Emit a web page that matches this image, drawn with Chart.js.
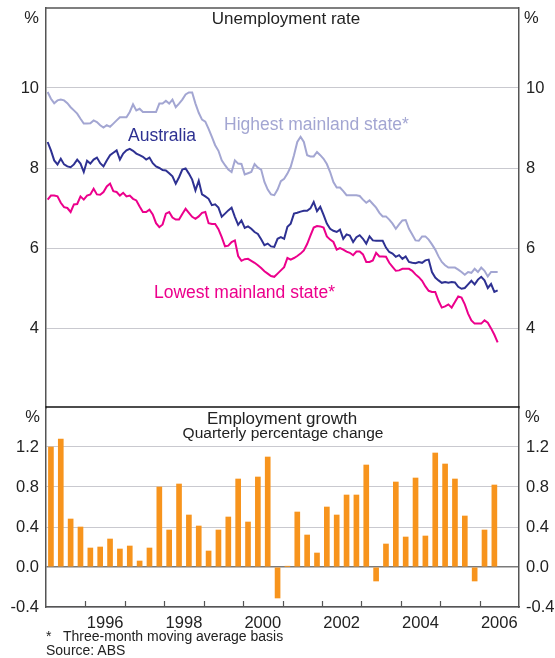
<!DOCTYPE html>
<html>
<head>
<meta charset="utf-8">
<script src="https://cdn.jsdelivr.net/npm/chart.js@4"></script>
<style>
  body { margin: 0; background: #fff; width: 555px; height: 658px; overflow: hidden; position: relative; }
  canvas { position: absolute; left: 0; }
  .note { position: absolute; left: 46px; font: 14px Arial, "Liberation Sans", sans-serif; color: #222; line-height: 16px; white-space: nowrap; }
</style>
</head>
<body>
<canvas id="unempChart" width="555" height="420" style="top:0"></canvas>
<canvas id="growthChart" width="555" height="258" style="top:400px"></canvas>
<div class="note" style="top:628px">*<span style="position:absolute;left:17px">Three-month moving average basis</span></div>
<div class="note" style="top:642px">Source: ABS</div>
<script>
// monthly series, Jan 1995 .. Jun 2006
const startYear = 1995;
const australia = [8.65, 8.44, 8.19, 8.09, 8.23, 8.09, 8.04, 8.02, 8.09, 8.21,
  8.11, 7.90, 8.18, 8.11, 8.21, 8.26, 8.12, 8.04, 8.19, 8.32,
  8.38, 8.44, 8.21, 8.36, 8.44, 8.48, 8.43, 8.36, 8.32, 8.28,
  8.21, 8.26, 8.12, 8.04, 8.00, 7.95, 7.94, 7.87, 7.79, 7.61,
  7.77, 7.96, 7.99, 7.86, 7.71, 7.44, 7.68, 7.34, 7.29, 7.23,
  7.07, 7.09, 7.01, 6.78, 6.86, 6.94, 7.01, 6.78, 6.58, 6.69,
  6.50, 6.54, 6.48, 6.40, 6.35, 6.22, 6.07, 6.11, 6.04, 6.03,
  6.23, 6.27, 6.23, 6.53, 6.61, 6.86, 6.88, 6.91, 6.93, 6.93,
  6.99, 7.15, 6.92, 7.03, 6.83, 6.61, 6.48, 6.43, 6.40, 6.46,
  6.23, 6.34, 6.31, 6.15, 6.27, 6.32, 6.23, 6.11, 6.29, 6.19,
  6.18, 6.18, 6.18, 6.01, 5.90, 5.86, 5.78, 5.82, 5.73, 5.79,
  5.65, 5.63, 5.62, 5.65, 5.63, 5.69, 5.71, 5.40, 5.26, 5.19,
  5.13, 5.15, 5.13, 5.15, 5.14, 5.03, 4.98, 5.00, 5.09, 5.18,
  5.09, 5.21, 5.28, 5.19, 5.00, 5.10, 4.90, 4.94];
const highestState = [9.90, 9.73, 9.62, 9.69, 9.71, 9.69, 9.62, 9.52, 9.44, 9.36,
  9.23, 9.11, 9.11, 9.12, 9.19, 9.15, 9.07, 9.01, 9.07, 9.03,
  9.11, 9.19, 9.27, 9.27, 9.27, 9.40, 9.59, 9.44, 9.48, 9.40,
  9.40, 9.40, 9.40, 9.40, 9.61, 9.61, 9.68, 9.61, 9.71, 9.52,
  9.61, 9.71, 9.84, 9.89, 9.89, 9.61, 9.38, 9.21, 9.16, 8.98,
  8.78, 8.57, 8.43, 8.19, 8.07, 7.96, 7.90, 8.19, 8.11, 8.10,
  7.84, 7.87, 7.90, 8.10, 8.01, 7.96, 7.65, 7.46, 7.34, 7.32,
  7.46, 7.67, 7.73, 7.86, 8.03, 8.32, 8.65, 8.78, 8.65, 8.32,
  8.29, 8.29, 8.40, 8.32, 8.23, 8.10, 7.90, 7.65, 7.51, 7.51,
  7.42, 7.32, 7.32, 7.32, 7.32, 7.30, 7.21, 7.13, 7.19, 7.10,
  7.01, 6.88, 6.79, 6.79, 6.71, 6.61, 6.48, 6.59, 6.69, 6.70,
  6.48, 6.34, 6.19, 6.18, 6.29, 6.29, 6.21, 6.09, 5.96, 5.79,
  5.65, 5.57, 5.51, 5.51, 5.51, 5.46, 5.40, 5.33, 5.40, 5.38,
  5.48, 5.40, 5.51, 5.43, 5.29, 5.40, 5.40, 5.40];
const lowestState = [7.21, 7.31, 7.31, 7.29, 7.13, 7.02, 7.00, 6.90, 7.09, 7.10,
  7.29, 7.21, 7.31, 7.34, 7.48, 7.34, 7.33, 7.40, 7.54, 7.61,
  7.42, 7.40, 7.31, 7.38, 7.29, 7.31, 7.23, 7.19, 7.04, 6.90,
  6.90, 6.96, 6.84, 6.62, 6.52, 6.59, 6.86, 6.90, 6.76, 6.71,
  6.71, 6.85, 6.98, 6.88, 6.78, 6.73, 6.79, 6.88, 6.90, 6.62,
  6.60, 6.60, 6.47, 6.27, 6.04, 6.06, 6.15, 6.19, 5.80, 5.68,
  5.72, 5.73, 5.68, 5.63, 5.57, 5.50, 5.42, 5.36, 5.30, 5.28,
  5.36, 5.44, 5.52, 5.75, 5.71, 5.75, 5.80, 5.86, 5.94, 6.10,
  6.31, 6.51, 6.55, 6.54, 6.51, 6.29, 6.21, 6.15, 5.96, 6.00,
  5.96, 5.91, 5.88, 5.82, 5.91, 5.91, 5.84, 5.65, 5.65, 5.69,
  5.88, 5.79, 5.79, 5.78, 5.63, 5.53, 5.43, 5.44, 5.48, 5.48,
  5.48, 5.43, 5.34, 5.27, 5.18, 5.04, 4.93, 4.90, 4.90, 4.68,
  4.51, 4.54, 4.59, 4.51, 4.65, 4.79, 4.76, 4.59, 4.36, 4.19,
  4.11, 4.11, 4.11, 4.19, 4.13, 3.99, 3.83, 3.64];

// quarterly employment growth, Mar qtr 1995 .. Jun qtr 2006
const employmentGrowth = [1.20, 1.28, 0.48, 0.40, 0.19, 0.20, 0.28, 0.18, 0.21, 0.06,
  0.19, 0.80, 0.37, 0.83, 0.52, 0.41, 0.16, 0.37, 0.50, 0.88,
  0.45, 0.90, 1.10, -0.31, 0.005, 0.55, 0.32, 0.14, 0.60, 0.52,
  0.72, 0.72, 1.02, -0.14, 0.23, 0.85, 0.30, 0.89, 0.31, 1.14,
  1.03, 0.88, 0.51, -0.14, 0.37, 0.82];

const yearLabels = [1996, 1998, 2000, 2002, 2004, 2006];
const unempTicks = [4, 6, 8, 10];
const growthTicks = [-0.4, 0.0, 0.4, 0.8, 1.2];

const colors = {
  australia: "#2e3192",
  highest: "#a3a6d2",
  lowest: "#ec008c",
  bars: "#f7941d",
  grid: "#c9c9cf",
  axis: "#555555",
  text: "#222222",
};
const FONT = 'Arial, "Liberation Sans", sans-serif';

const monthly = (arr) => arr.map((v, i) => ({ x: startYear + (i + 0.5) / 12, y: v }));
const quarterly = (arr) => arr.map((v, i) => ({ x: startYear + i / 4 + 0.125, y: v }));

function near(v, list) {
  return list.find(t => Math.abs(t - v) < 1e-6);
}

// keep the plot box exactly where the padding puts it
function noEdgePad(s) {
  s.paddingTop = 0;
  s.paddingBottom = 0;
  s.paddingLeft = 0;
  s.paddingRight = 0;
}

// top panel
const unempDecor = {
  id: "unempDecor",
  afterDraw(chart) {
    const c = chart.ctx;
    const a = chart.chartArea;
    c.save();
    c.strokeStyle = colors.axis;
    c.lineWidth = 1.5;
    c.beginPath();
    c.moveTo(a.left, a.top);
    c.lineTo(a.right, a.top);
    c.stroke();

    c.fillStyle = colors.text;
    c.font = "17px " + FONT;
    c.textAlign = "center";
    c.textBaseline = "alphabetic";
    c.fillText("Unemployment rate", 286, 24);

    c.font = "16.5px " + FONT;
    c.textAlign = "right";
    c.fillText("%", 39, 23);
    c.textAlign = "left";
    c.fillText("%", 524, 23);

    c.font = "17.5px " + FONT;
    c.fillStyle = colors.highest;
    c.fillText("Highest mainland state*", 224, 129.5);
    c.fillStyle = colors.australia;
    c.fillText("Australia", 128, 140.5);
    c.fillStyle = colors.lowest;
    c.fillText("Lowest mainland state*", 154, 298);
    c.restore();
  }
};

const unempTickOpts = {
  font: { family: FONT, size: 16.5 },
  color: colors.text,
  padding: 7,
  stepSize: 2,
  callback: (v) => near(v, unempTicks) !== undefined ? String(v) : null,
};

new Chart(document.getElementById("unempChart"), {
  type: "line",
  data: {
    datasets: [
      { label: "Highest mainland state", data: monthly(highestState), borderColor: colors.highest, borderWidth: 2 },
      { label: "Australia", data: monthly(australia), borderColor: colors.australia, borderWidth: 2 },
      { label: "Lowest mainland state", data: monthly(lowestState), borderColor: colors.lowest, borderWidth: 2 },
    ],
  },
  options: {
    responsive: false,
    animation: false,
    layout: { padding: { top: 8, bottom: 12, left: 0, right: 0 } },
    elements: { point: { radius: 0 }, line: { tension: 0 } },
    plugins: { legend: { display: false }, tooltip: { enabled: false } },
    scales: {
      x: { type: "linear", min: 1995, max: 2007, display: false },
      y: {
        position: "left", min: 2, max: 12,
        ticks: unempTickOpts,
        grid: { color: colors.grid, drawTicks: false },
        border: { display: true, color: colors.axis, width: 1.5 },
        afterFit: (s) => { s.width = 46; noEdgePad(s); },
      },
      y2: {
        position: "right", min: 2, max: 12, display: true,
        ticks: unempTickOpts,
        grid: { display: false, drawTicks: false },
        border: { display: true, color: colors.axis, width: 1.5 },
        afterFit: (s) => { s.width = 36; noEdgePad(s); },
      },
    },
  },
  plugins: [unempDecor],
});

// bottom panel
const growthDecor = {
  id: "growthDecor",
  afterDraw(chart) {
    const c = chart.ctx;
    const a = chart.chartArea;
    const xs = chart.scales.x;
    c.save();
    // year ticks pointing inward
    c.strokeStyle = colors.axis;
    c.lineWidth = 1.2;
    for (let yr = 1996; yr <= 2006; yr++) {
      const px = Math.round(xs.getPixelForValue(yr)) + 0.5;
      c.beginPath();
      c.moveTo(px, a.bottom);
      c.lineTo(px, a.bottom - 6);
      c.stroke();
    }
    // divider between panels
    c.strokeStyle = "#111";
    c.lineWidth = 1.5;
    c.beginPath();
    c.moveTo(a.left - 0.5, a.top);
    c.lineTo(a.right + 0.5, a.top);
    c.stroke();

    c.fillStyle = colors.text;
    c.textAlign = "center";
    c.font = "17px " + FONT;
    c.fillText("Employment growth", 282, 24);
    c.font = "15.5px " + FONT;
    c.fillText("Quarterly percentage change", 283, 37.5);

    c.font = "16.5px " + FONT;
    c.textAlign = "right";
    c.fillText("%", 40, 21.5);
    c.textAlign = "left";
    c.fillText("%", 525, 21.5);
    c.restore();
  }
};

const growthTickOpts = {
  font: { family: FONT, size: 16.5 },
  color: colors.text,
  padding: 7,
  stepSize: 0.4,
  callback: (v) => {
    const t = near(v, growthTicks);
    if (t === undefined) return null;
    return Math.abs(t) < 1e-9 ? "0.0" : t.toFixed(1);
  },
};

new Chart(document.getElementById("growthChart"), {
  type: "bar",
  data: {
    datasets: [{
      label: "Employment growth",
      data: quarterly(employmentGrowth),
      backgroundColor: colors.bars,
      barThickness: 5,
    }],
  },
  options: {
    responsive: false,
    animation: false,
    layout: { padding: { top: 7, bottom: 21, left: 0, right: 0 } },
    plugins: { legend: { display: false }, tooltip: { enabled: false } },
    scales: {
      x: {
        type: "linear", min: 1995, max: 2007,
        offset: false,
        grid: { display: false, drawTicks: false },
        border: { display: true, color: colors.axis, width: 1.5 },
        ticks: {
          stepSize: 0.5,
          autoSkip: false,
          maxRotation: 0,
          padding: 7,
          font: { family: FONT, size: 16.5 },
          color: colors.text,
          callback: (v) => {
            const yr = v - 0.5;
            return yearLabels.includes(Math.round(yr)) && Math.abs(yr - Math.round(yr)) < 1e-6 ? String(Math.round(yr)) : null;
          },
        },
        afterFit: (s) => { s.height = 30; noEdgePad(s); },
      },
      y: {
        position: "left", min: -0.4, max: 1.6,
        ticks: growthTickOpts,
        grid: {
          drawTicks: false,
          color: (ctx) => Math.abs(ctx.tick.value) < 1e-6 ? "#7a7a7a" : colors.grid,
          lineWidth: (ctx) => Math.abs(ctx.tick.value) < 1e-6 ? 1.6 : 1,
        },
        border: { display: true, color: colors.axis, width: 1.5 },
        afterFit: (s) => { s.width = 46; noEdgePad(s); },
      },
      y2: {
        position: "right", min: -0.4, max: 1.6, display: true,
        ticks: growthTickOpts,
        grid: { display: false, drawTicks: false },
        border: { display: true, color: colors.axis, width: 1.5 },
        afterFit: (s) => { s.width = 36; noEdgePad(s); },
      },
    },
  },
  plugins: [growthDecor],
});
</script>
</body>
</html>
